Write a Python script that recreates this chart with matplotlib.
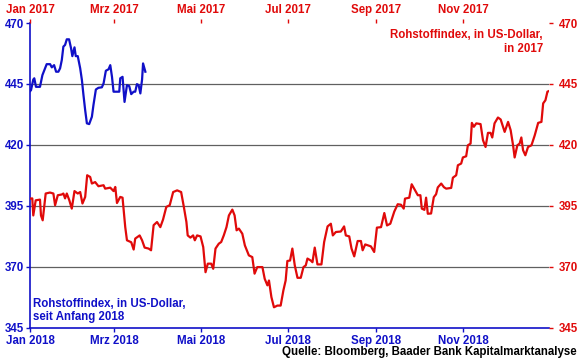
import matplotlib
matplotlib.use('Agg')
import matplotlib.pyplot as plt
import matplotlib.dates as mdates
import pandas as pd

plt.rcParams['font.family'] = ['Liberation Sans', 'DejaVu Sans']
plt.rcParams['font.weight'] = 'bold'

# commodity index 2017 (day of year, value) - red, top/right axes
days_2017 = [0, 1.6, 2.3, 4, 7, 7.7, 8.9, 11, 14, 16.4, 17.6, 19.5, 22.3, 23.4, 24.6, 25.8,
             27.6, 29.3, 31.2, 33.5, 35.2, 36.8, 38.7, 40.1, 42.2, 43.4, 45.7, 48, 51.6,
             52.7, 56.3, 58.6, 59.8, 61, 63.3, 64.9, 66.8, 68, 71, 72.7, 73.8, 76.9, 78.6,
             80.4, 83.2, 84.9, 86.7, 89.1, 91.4, 93.3, 95.6, 98, 100.4, 103.2, 106, 107.9,
             109.7, 110.6, 112.5, 114.4, 115.6, 117.2, 119.6, 121.5, 123.1, 124.7, 127.1,
             128.5, 130.1, 132.4, 134.1, 135.9, 137.8, 139.5, 141.9, 143.5, 144.9, 146.5,
             148.9, 150.7, 153.5, 155.9, 157.5, 159.4, 163, 164.6, 166.5, 167.6, 169.3,
             171.1, 173.5, 175.8, 177.7, 179.3, 180.5, 182.4, 184, 185.7, 187.6, 189.9,
             191.8, 193.4, 194.6, 196.9, 198.1, 199.7, 201.6, 204.4, 206.3, 208.7, 211,
             212.4, 214.5, 218, 220.3, 221.5, 223.9, 225.5, 227.4, 229.8, 232.1, 233.3,
             235.1, 237.2, 239.1, 241.4, 243.3, 246.2, 248.5, 250.4, 252.7, 255.5, 257.9,
             260.2, 262.1, 263, 266, 267.7, 270.1, 272, 273.8, 274.8, 276.6, 277.8, 279,
             281.3, 283.2, 284.8, 286, 288.4, 290.3, 291.9, 295.4, 296.6, 298.9, 300.1,
             302.4, 303.6, 305.9, 307.1, 309, 309.9, 311.3, 313, 316, 317.7, 319.5, 321.2,
             323, 324.2, 325.8, 328.2, 330.1, 332.9, 335.3, 337.1, 338.8, 339.9, 341.8,
             343.4, 344.6, 345.8, 347.4, 349.3, 351.7, 354, 356.4, 358.7, 359.9, 361.5,
             362.9, 364.5]
index_2017 = [397.9, 398, 391, 397.2, 397.5, 391, 389, 400, 400.4, 400, 395.2, 399.3, 399.6,
              400, 398, 400, 397.2, 393.8, 401, 400, 400.6, 395.9, 398.6, 407.5, 406.8, 404.1,
              404.7, 403, 403.4, 402, 402.4, 401, 402.7, 396.1, 398.6, 398.3, 386.2, 380.8,
              380, 377, 381.5, 382.8, 380.8, 377.8, 377.4, 376.7, 387, 388.3, 386.2, 389.3,
              394.5, 395.2, 400.6, 401.3, 400.6, 394.5, 388.3, 382.8, 381.9, 382.8, 380.8,
              382.8, 382.4, 378, 367.7, 371.2, 371.2, 369.1, 377.4, 379.4, 380.1, 382.8,
              386.2, 391, 393.4, 391, 384.9, 385.6, 383.5, 378.7, 374.6, 373.9, 367.1, 369.8,
              369.8, 365, 362.3, 364.3, 357.5, 353.3, 354, 354, 360.2, 364.3, 372.3, 372.5,
              377.4, 370.5, 365.4, 365.4, 369.8, 370.5, 373.3, 372.5, 371.8, 377.8, 370.9,
              370.9, 380.1, 386.5, 387.6, 382.8, 384.2, 384.4, 386.5, 382.8, 382.4, 377.4,
              374.2, 380.5, 380.5, 376.7, 379.1, 378.7, 378.3, 376, 386, 386.2, 392, 386.9,
              387.6, 392.6, 395.6, 395.4, 393.8, 397.9, 398.3, 403.8, 401.3, 399.3, 399.3,
              393.8, 393.3, 398.3, 391.7, 391.8, 398.5, 399.7, 402.5, 404.1, 402.6, 402,
              402.3, 406.5, 407.5, 411.6, 412.3, 414.8, 415.3, 419.8, 420.5, 429, 427.4,
              428.8, 428.5, 421.9, 419.1, 424.9, 424.9, 423, 428.8, 431.2, 430.4, 425.3,
              429.4, 426, 419.8, 414.8, 419.8, 420.5, 423, 417.8, 415.7, 419.1, 419.8, 423.9,
              429, 429.4, 437, 438.3, 441.8, 442.2]

# commodity index since start of 2018 (day of year, value) - blue, bottom/left axes
days_2018 = [0, 0.7, 2.3, 3, 4.2, 7, 8.7, 10.1, 11.7, 14.1, 15.3, 16.9, 18.3, 19.9, 21.1,
             22.3, 23.4, 24.6, 25.8, 27.4, 28.8, 29.7, 31.2, 32.1, 33.5, 35.2, 36.4, 37.5,
             38.7, 39.9, 41.5, 43.4, 44.5, 46.2, 48, 50.4, 51.6, 53.2, 55.1, 56.3, 57.5,
             58.6, 61, 62.6, 63.3, 64.9, 66.3, 68, 69.6, 71, 72.7, 73.8, 75, 76.2, 77.4,
             78.6, 79.3, 80.9]
index_2018 = [442, 442.4, 446.8, 447.3, 443.8, 443.8, 448.6, 450.7, 453.1, 453.1, 451.8,
              452.7, 450, 450, 451.4, 454.8, 460.3, 461, 463.3, 463.3, 459.6, 456.4, 460,
              456.4, 456.4, 451.4, 446.6, 440.4, 434.2, 428.8, 428.5, 431.5, 436.3, 442.7,
              443.4, 443.6, 445.2, 450.4, 451, 452.7, 447.9, 441.8, 441.8, 441.8, 447.3,
              447.9, 437.6, 444.5, 444.1, 440.8, 441.8, 441.8, 444.9, 444.5, 441.1, 446.8,
              453.4, 450]

yticks = [345, 370, 395, 420, 445, 470]
blue = '#1010c8'
red = '#e00a0a'

dates_2017 = pd.Timestamp('2017-01-01') + pd.to_timedelta(days_2017, unit='D')
dates_2018 = pd.Timestamp('2018-01-01') + pd.to_timedelta(days_2018, unit='D')

fig = plt.figure(figsize=(5.8, 3.59), dpi=100)
rect = [30 / 580, 1 - 327.5 / 359, 519 / 580, 304.5 / 359]
ax = fig.add_axes(rect)
ax_r = fig.add_axes(rect, frameon=False)

# 2018 axes: bottom / left, blue
ax.set_xlim(pd.Timestamp('2018-01-01'), pd.Timestamp('2018-12-31'))
ax.set_ylim(345, 470)
ax.set_yticks(yticks)
for v in yticks[1:-1]:
    ax.axhline(v, color='#606060', lw=0.9, zorder=1)
ax.xaxis.set_major_locator(mdates.MonthLocator(bymonth=[1, 3, 5, 7, 9, 11]))
ax.set_xticks(ax.get_xticks())
ax.set_xticklabels(['Jan 2018', 'Mrz 2018', 'Mai 2018', 'Jul 2018', 'Sep 2018', 'Nov 2018'])
ax.tick_params(axis='both', colors=blue, labelsize=8.3, length=3, width=1)
for s in ['left', 'bottom']:
    ax.spines[s].set_color(blue)
    ax.spines[s].set_linewidth(1.2)
for s in ['top', 'right']:
    ax.spines[s].set_visible(False)
ax.tick_params(axis='x', pad=2.5)
ax.tick_params(axis='y', pad=1)

# 2017 axes: top / right, red
ax_r.set_xlim(pd.Timestamp('2017-01-01'), pd.Timestamp('2017-12-31'))
ax_r.set_ylim(345, 470)
ax_r.set_yticks(yticks)
ax_r.xaxis.set_major_locator(mdates.MonthLocator(bymonth=[1, 3, 5, 7, 9, 11]))
ax_r.set_xticks(ax_r.get_xticks())
ax_r.set_xticklabels(['Jan 2017', 'Mrz 2017', 'Mai 2017', 'Jul 2017', 'Sep 2017', 'Nov 2017'])
ax_r.xaxis.tick_top()
ax_r.yaxis.tick_right()
ax_r.tick_params(axis='both', colors=red, labelsize=8.3, length=3, width=1)
ax_r.tick_params(axis='x', pad=2)
ax_r.tick_params(axis='y', pad=4)
ax_r.patch.set_visible(False)
for s in ['top', 'right']:
    ax_r.spines[s].set_visible(True)
    ax_r.spines[s].set_color(red)
    ax_r.spines[s].set_linewidth(1.2)

ax_r.plot(dates_2017, index_2017, color=red, lw=1.6, zorder=3)
ax.plot(dates_2018, index_2018, color=blue, lw=1.6, zorder=3)

fig.text(543 / 580, 1 - 29 / 359, 'Rohstoffindex, in US-Dollar,\nin 2017', color=red,
         fontsize=8.3, fontweight='bold', ha='right', va='top', linespacing=1.25)
fig.text(33 / 580, 1 - 323 / 359, 'Rohstoffindex, in US-Dollar,\nseit Anfang 2018', color=blue,
         fontsize=8.3, fontweight='bold', ha='left', va='bottom', linespacing=1.1)
fig.text(577 / 580, 1 - 358 / 359, 'Quelle: Bloomberg, Baader Bank Kapitalmarktanalyse',
         color='black', fontsize=8.3, fontweight='bold', ha='right', va='bottom')

fig.savefig('out.png', dpi=100)
